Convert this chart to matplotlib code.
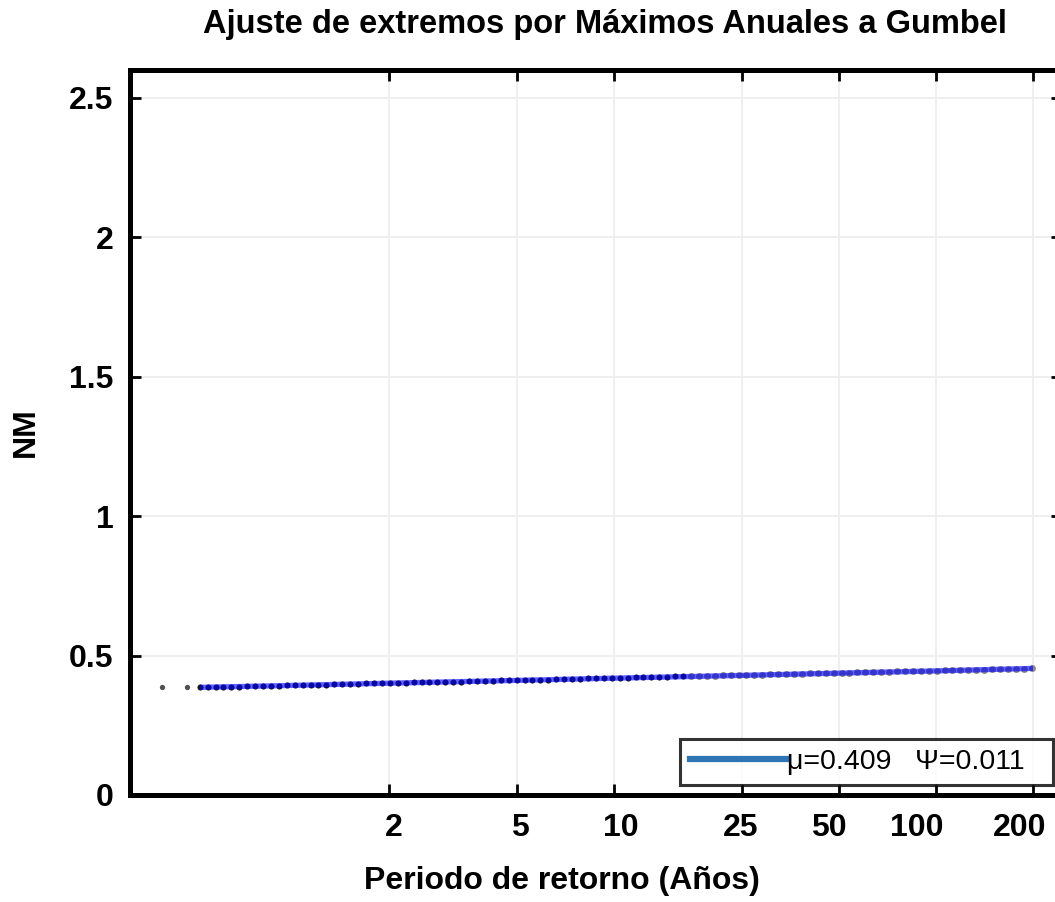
import matplotlib
matplotlib.use("Agg")
import matplotlib.pyplot as plt
import matplotlib.transforms as mtransforms
from matplotlib.lines import Line2D
from matplotlib.ticker import FixedLocator, FixedFormatter, NullLocator

# ---------------- data ----------------
title = "Ajuste de extremos por Máximos Anuales a Gumbel"
xlabel = "Periodo de retorno (Años)"
ylabel = "NM"
legend_label = "μ=0.409   Ψ=0.011"

x_ticks = [2, 5, 10, 25, 50, 100, 200]
x_ticklabels = ["2", "5", "10", "25", "50", "100", "200"]
y_ticks = [0, 0.5, 1, 1.5, 2, 2.5]
y_ticklabels = ["0", "0.5", "1", "1.5", "2", "2.5"]

# fitted Gumbel line (return period, level)
fit_T = [0.517, 1, 2, 5, 10, 25, 50, 100, 200]
fit_level = [0.386, 0.393, 0.401, 0.411, 0.419, 0.429, 0.437, 0.445, 0.454]

# isolated first observations
iso_T = [0.395, 0.473]
iso_level = [0.386, 0.386]

# observed annual maxima along the fit
obs_T = [0.517, 0.547, 0.579, 0.612, 0.648, 0.686, 0.726, 0.768, 0.813, 0.860,
         0.910, 0.963, 1.019, 1.079, 1.142, 1.208, 1.279, 1.353, 1.432, 1.516,
         1.604, 1.698, 1.797, 1.901, 2.012, 2.130, 2.254, 2.385, 2.524, 2.671,
         2.827, 2.992, 3.166, 3.351, 3.546, 3.753, 3.972, 4.203, 4.448, 4.708,
         4.982, 5.273, 5.580, 5.905, 6.249, 6.614, 7.000, 7.408, 7.840, 8.297,
         8.780, 9.292, 9.834, 10.41, 11.01, 11.66, 12.34, 13.06, 13.82, 14.62,
         15.48, 16.38, 17.33, 18.34, 19.41, 20.54, 21.74, 23.01, 24.35, 25.77,
         27.27, 28.86, 30.54, 32.32, 34.21, 36.20, 38.31, 40.55, 42.91, 45.41,
         48.06, 50.86, 53.83, 56.96, 60.28, 63.80, 67.52, 71.45, 75.62, 80.03,
         84.69, 89.63, 94.86, 100.4, 106.2, 112.4, 119.0, 125.9, 133.2, 141.0,
         149.2, 157.9, 167.1, 176.9, 187.2, 198.1]
obs_level = [0.386, 0.387, 0.387, 0.388, 0.389, 0.389, 0.390, 0.391, 0.391, 0.392,
             0.392, 0.393, 0.394, 0.394, 0.395, 0.396, 0.396, 0.397, 0.398, 0.398,
             0.399, 0.400, 0.400, 0.401, 0.402, 0.402, 0.403, 0.404, 0.404, 0.405,
             0.405, 0.406, 0.407, 0.407, 0.408, 0.409, 0.409, 0.410, 0.411, 0.411,
             0.412, 0.413, 0.413, 0.414, 0.414, 0.415, 0.416, 0.416, 0.417, 0.418,
             0.418, 0.419, 0.420, 0.420, 0.421, 0.422, 0.422, 0.423, 0.423, 0.424,
             0.425, 0.425, 0.426, 0.427, 0.427, 0.428, 0.429, 0.429, 0.430, 0.431,
             0.431, 0.432, 0.433, 0.433, 0.434, 0.434, 0.435, 0.436, 0.436, 0.437,
             0.438, 0.438, 0.439, 0.440, 0.440, 0.441, 0.442, 0.442, 0.443, 0.443,
             0.444, 0.445, 0.445, 0.446, 0.447, 0.447, 0.448, 0.449, 0.449, 0.450,
             0.451, 0.451, 0.452, 0.452, 0.453, 0.454]

# ---------------- figure ----------------
plt.rcParams['font.family'] = ['Liberation Sans', 'DejaVu Sans']

W, H = 1055, 902
fig = plt.figure(figsize=(W / 100, H / 100), dpi=100)
ax = fig.add_axes([130 / W, 107 / H, 932 / W, 725 / H])

ax.set_xscale('log')
ax.set_xlim(0.314, 246)
ax.set_ylim(0, 2.6)

ax.grid(True, color='#eeeeee', linewidth=1.3, zorder=0)

split = 62
ax.plot(obs_T[:split], obs_level[:split], linestyle='none', marker='o',
        markersize=4.4, color='#151515', markeredgewidth=0, zorder=2)
ax.plot(obs_T[split:], obs_level[split:], linestyle='none', marker='o',
        markersize=5.0, color='#8c8c80', markeredgewidth=0, zorder=2)
ax.plot(iso_T, iso_level, linestyle='none', marker='o', markersize=3.8,
        color='#505050', markeredgewidth=0, zorder=2)
ax.plot(fit_T, fit_level, color='#0000ff', linewidth=3.8, alpha=0.62,
        solid_capstyle='butt', zorder=3)

ax.xaxis.set_major_locator(FixedLocator(x_ticks))
ax.xaxis.set_major_formatter(FixedFormatter(x_ticklabels))
ax.xaxis.set_minor_locator(NullLocator())
ax.yaxis.set_major_locator(FixedLocator(y_ticks))
ax.yaxis.set_major_formatter(FixedFormatter(y_ticklabels))

for s in ax.spines.values():
    s.set_linewidth(3.6)
    s.set_color('black')

ax.tick_params(axis='both', which='major', direction='in', length=8, width=2.0,
               top=True, right=True, labelsize=23, color='black')
ax.tick_params(axis='x', pad=13)
ax.tick_params(axis='y', pad=12)
for lab in ax.get_xticklabels() + ax.get_yticklabels():
    lab.set_fontweight('bold')

# small horizontal offsets of x tick labels (pixels), as in the reference
x_label_shift = [5, 3, 7, -2, -10, -19, -13]
for lab, dx in zip(ax.get_xticklabels(), x_label_shift):
    lab.set_transform(lab.get_transform() +
                      mtransforms.ScaledTranslation(dx / 100, 0, fig.dpi_scale_trans))

ax.set_xlabel(xlabel, fontsize=23, fontweight='bold')
ax.xaxis.set_label_coords((562 - 130) / 932, -0.098)
ax.set_ylabel(ylabel, fontsize=23, fontweight='bold')
ax.yaxis.set_label_coords((41 - 130) / 932, 0.5)

fig.text(605 / W, 1 - 24 / H, title, fontsize=23.5, fontweight='bold',
         ha='center', va='center')

handle = Line2D([], [], color='#2e75b6', linewidth=4.5)
leg = ax.legend([handle], [legend_label], loc='lower left', mode='expand',
                bbox_to_anchor=((680 - 130) / 932, 10 / 725, (1053 - 680) / 932, 0.05),
                fontsize=20.5, frameon=True, fancybox=False, handlelength=3.4,
                handletextpad=0.0, borderpad=0.35, borderaxespad=0.0)
leg.get_frame().set_edgecolor('black')
leg.get_frame().set_linewidth(2.2)
leg.set_zorder(5)

fig.savefig('out.png', dpi=100)
